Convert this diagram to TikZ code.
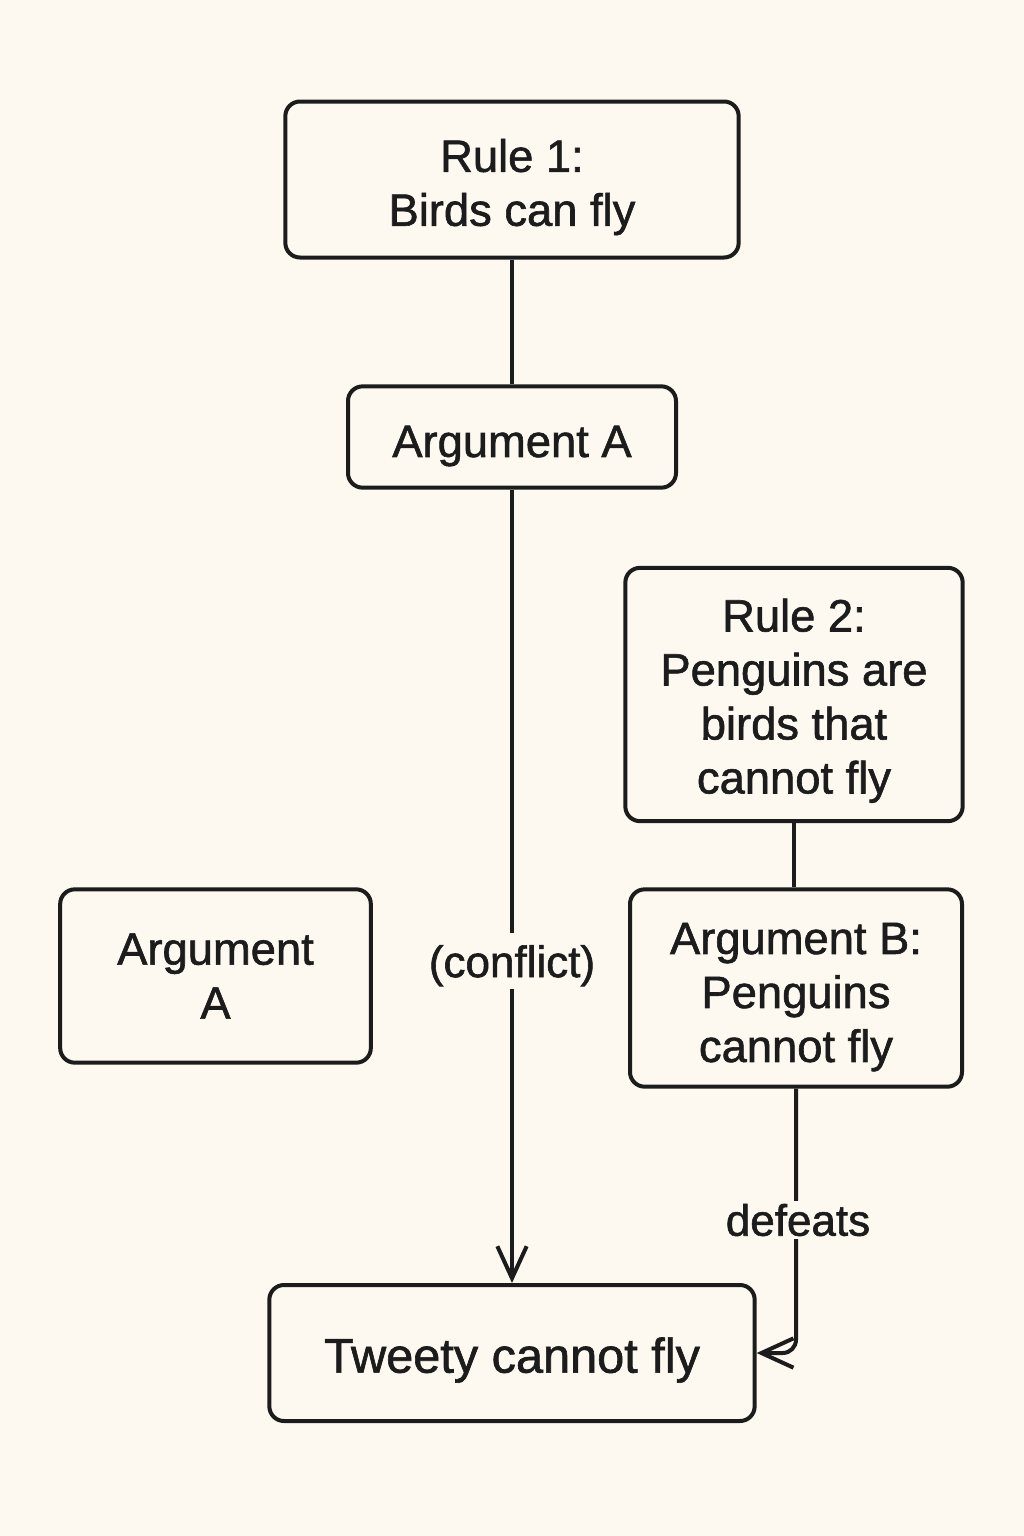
\documentclass[tikz,border=0pt]{standalone}
\usepackage{fontspec}
\setmainfont{Liberation Sans}[FakeBold=1.3]
\usetikzlibrary{arrows.meta}
\definecolor{bgc}{HTML}{FDF9F1}
\definecolor{ink}{HTML}{1C1C1C}
\newcommand\tstrut[1]{\rule{0pt}{#1}}
\begin{document}
\begin{tikzpicture}[x=0.75pt,y=-0.75pt,
  box/.style={draw=ink, line width=3pt, rounded corners=11pt, fill=bgc, align=center,
    text=ink, font=\fontsize{34}{40.5}\selectfont, inner sep=0pt},
  conn/.style={draw=ink, line width=3pt},
  arr/.style={conn, -{Straight Barb[length=24pt,width=22pt,line width=3pt]}},
  lbl/.style={fill=bgc, text=ink, font=\fontsize{33}{40}\selectfont, inner sep=2pt}]
\useasboundingbox[fill=bgc] (0,0) rectangle (1024,1536);
\node[box, minimum width=340pt, minimum height=117pt] (r1) at (512,179.5) {\tstrut{36pt}Rule 1:\\Birds can fly};
\node[box, minimum width=246pt, minimum height=76pt] (aa) at (512,437) {\tstrut{37pt}Argument A};
\node[box, minimum width=253pt, minimum height=190pt] (r2) at (794,694.5) {\tstrut{34pt}Rule 2:\\Penguins are\\birds that\\cannot fly};
\node[box, minimum width=249pt, minimum height=148pt] (ab) at (796,988) {\tstrut{37pt}Argument B:\\Penguins\\cannot fly};
\node[box, minimum width=233pt, minimum height=130pt] (al) at (215.5,976) {Argument\\A};
\node[box, minimum width=364pt, minimum height=102pt, font=\fontsize{36.5}{42}\selectfont] (tw) at (512,1353) {\tstrut{37pt}Tweety cannot fly};
\draw[conn] (r1.south) -- (aa.north);
\draw[conn] (r2.south -| 794,0) -- (ab.north -| 794,0);
\draw[arr] (aa.south) -- (tw.north);
\draw[arr, rounded corners=10pt] (ab.south) |- (tw.east);
\node[lbl] (cf) at (512,961) {\tstrut{31pt}(conflict)};
\node[lbl] (df) at (798,1220) {defeats};
\end{tikzpicture}
\end{document}
